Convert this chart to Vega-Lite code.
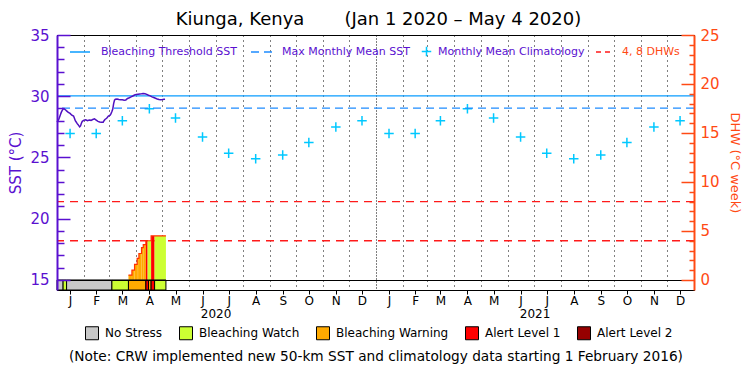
{
  "$schema": "https://vega.github.io/schema/vega-lite/v6.json",
  "autosize": {"type": "none"},
  "padding": {"left": 57, "top": 35, "right": 56, "bottom": 85},
  "width": 637,
  "height": 255,
  "background": "white",
  "title": {"text": "Kiunga, Kenya\u00a0\u00a0\u00a0\u00a0\u00a0\u00a0 (Jan 1 2020 \u2013 May 4 2020)", "fontSize": 18, "font": "DejaVu Sans", "fontWeight": "normal", "color": "black", "offset": -1, "anchor": "middle", "dx": 3},
  "datasets": {
    "sst": [
      {"date": "2020-01-01", "sst": 27.9}, {"date": "2020-01-02", "sst": 28.0}, {"date": "2020-01-03", "sst": 28.1},
      {"date": "2020-01-04", "sst": 28.3}, {"date": "2020-01-05", "sst": 28.5}, {"date": "2020-01-06", "sst": 28.7},
      {"date": "2020-01-07", "sst": 28.85}, {"date": "2020-01-08", "sst": 28.95}, {"date": "2020-01-09", "sst": 28.97},
      {"date": "2020-01-10", "sst": 28.93}, {"date": "2020-01-11", "sst": 28.88}, {"date": "2020-01-12", "sst": 28.8},
      {"date": "2020-01-14", "sst": 28.68}, {"date": "2020-01-16", "sst": 28.6}, {"date": "2020-01-18", "sst": 28.45},
      {"date": "2020-01-20", "sst": 28.38}, {"date": "2020-01-21", "sst": 28.2}, {"date": "2020-01-22", "sst": 28.0},
      {"date": "2020-01-23", "sst": 27.9}, {"date": "2020-01-24", "sst": 27.78}, {"date": "2020-01-25", "sst": 27.7},
      {"date": "2020-01-26", "sst": 27.6}, {"date": "2020-01-27", "sst": 27.5}, {"date": "2020-01-28", "sst": 27.58},
      {"date": "2020-01-29", "sst": 27.8}, {"date": "2020-01-30", "sst": 27.95}, {"date": "2020-02-01", "sst": 28.05},
      {"date": "2020-02-03", "sst": 28.08}, {"date": "2020-02-05", "sst": 28.0}, {"date": "2020-02-07", "sst": 28.05},
      {"date": "2020-02-09", "sst": 28.03}, {"date": "2020-02-11", "sst": 28.1}, {"date": "2020-02-13", "sst": 28.15},
      {"date": "2020-02-15", "sst": 28.05}, {"date": "2020-02-17", "sst": 27.95}, {"date": "2020-02-19", "sst": 27.9},
      {"date": "2020-02-21", "sst": 27.87}, {"date": "2020-02-23", "sst": 27.88}, {"date": "2020-02-24", "sst": 28.0},
      {"date": "2020-02-25", "sst": 28.1}, {"date": "2020-02-27", "sst": 28.2}, {"date": "2020-02-29", "sst": 28.38},
      {"date": "2020-03-02", "sst": 28.45}, {"date": "2020-03-03", "sst": 28.58}, {"date": "2020-03-04", "sst": 28.75},
      {"date": "2020-03-05", "sst": 28.95}, {"date": "2020-03-06", "sst": 29.4}, {"date": "2020-03-07", "sst": 29.68},
      {"date": "2020-03-08", "sst": 29.75}, {"date": "2020-03-10", "sst": 29.78}, {"date": "2020-03-12", "sst": 29.74},
      {"date": "2020-03-14", "sst": 29.72}, {"date": "2020-03-16", "sst": 29.72}, {"date": "2020-03-18", "sst": 29.68},
      {"date": "2020-03-20", "sst": 29.7}, {"date": "2020-03-22", "sst": 29.82}, {"date": "2020-03-24", "sst": 29.88},
      {"date": "2020-03-26", "sst": 29.95}, {"date": "2020-03-28", "sst": 30.02}, {"date": "2020-03-30", "sst": 30.1},
      {"date": "2020-04-01", "sst": 30.15}, {"date": "2020-04-03", "sst": 30.17}, {"date": "2020-04-05", "sst": 30.19},
      {"date": "2020-04-07", "sst": 30.2}, {"date": "2020-04-09", "sst": 30.22}, {"date": "2020-04-11", "sst": 30.2},
      {"date": "2020-04-13", "sst": 30.15}, {"date": "2020-04-15", "sst": 30.08}, {"date": "2020-04-17", "sst": 30.03},
      {"date": "2020-04-19", "sst": 29.95}, {"date": "2020-04-21", "sst": 29.9}, {"date": "2020-04-23", "sst": 29.84},
      {"date": "2020-04-25", "sst": 29.78}, {"date": "2020-04-27", "sst": 29.73}, {"date": "2020-04-29", "sst": 29.72},
      {"date": "2020-05-01", "sst": 29.73}, {"date": "2020-05-03", "sst": 29.75}, {"date": "2020-05-04", "sst": 29.75}
    ],
    "clim": [
      {"date": "2020-01-16", "sst": 26.95}, {"date": "2020-02-15", "sst": 26.95}, {"date": "2020-03-16", "sst": 28.0},
      {"date": "2020-04-16", "sst": 28.97}, {"date": "2020-05-16", "sst": 28.23}, {"date": "2020-06-16", "sst": 26.68},
      {"date": "2020-07-16", "sst": 25.34}, {"date": "2020-08-16", "sst": 24.9}, {"date": "2020-09-16", "sst": 25.2},
      {"date": "2020-10-16", "sst": 26.23}, {"date": "2020-11-16", "sst": 27.49}, {"date": "2020-12-16", "sst": 28.0},
      {"date": "2021-01-16", "sst": 26.95}, {"date": "2021-02-15", "sst": 26.95}, {"date": "2021-03-16", "sst": 28.0},
      {"date": "2021-04-16", "sst": 28.97}, {"date": "2021-05-16", "sst": 28.23}, {"date": "2021-06-16", "sst": 26.68},
      {"date": "2021-07-16", "sst": 25.34}, {"date": "2021-08-16", "sst": 24.9}, {"date": "2021-09-16", "sst": 25.2},
      {"date": "2021-10-16", "sst": 26.23}, {"date": "2021-11-16", "sst": 27.49}, {"date": "2021-12-16", "sst": 28.0}
    ],
    "threshold": [{"series": "Bleaching Threshold SST", "sst": 30.03}],
    "mmm": [{"series": "Max Monthly Mean SST", "sst": 29.03}],
    "dhwrefs": [
      {"series": "4, 8 DHWs", "dhw": 4},
      {"series": "4, 8 DHWs", "dhw": 8}
    ],
    "strip": [
      {"start": "2020-01-01", "end": "2020-01-08", "level": "No Stress"},
      {"start": "2020-01-08", "end": "2020-01-12", "level": "Bleaching Watch"},
      {"start": "2020-01-12", "end": "2020-03-04", "level": "No Stress"},
      {"start": "2020-03-04", "end": "2020-03-23", "level": "Bleaching Watch"},
      {"start": "2020-03-23", "end": "2020-04-12", "level": "Bleaching Warning"},
      {"start": "2020-04-12", "end": "2020-04-15", "level": "Alert Level 1"},
      {"start": "2020-04-15", "end": "2020-04-18", "level": "Bleaching Warning"},
      {"start": "2020-04-18", "end": "2020-04-22", "level": "Alert Level 1"},
      {"start": "2020-04-22", "end": "2020-05-05", "level": "Bleaching Watch"}
    ],
    "dhw": [
      {"start": "2020-03-23", "end": "2020-03-27", "dhw": 0.5, "level": "Bleaching Warning"},
      {"start": "2020-03-27", "end": "2020-03-30", "dhw": 1.0, "level": "Bleaching Warning"},
      {"start": "2020-03-30", "end": "2020-04-02", "dhw": 1.6, "level": "Bleaching Warning"},
      {"start": "2020-04-02", "end": "2020-04-04", "dhw": 2.2, "level": "Bleaching Warning"},
      {"start": "2020-04-04", "end": "2020-04-07", "dhw": 2.7, "level": "Bleaching Warning"},
      {"start": "2020-04-07", "end": "2020-04-09", "dhw": 3.3, "level": "Bleaching Warning"},
      {"start": "2020-04-09", "end": "2020-04-12", "dhw": 3.6, "level": "Bleaching Warning"},
      {"start": "2020-04-12", "end": "2020-04-14", "dhw": 4.0, "level": "Alert Level 1"},
      {"start": "2020-04-14", "end": "2020-04-18", "dhw": 4.0, "level": "Bleaching Watch"},
      {"start": "2020-04-18", "end": "2020-04-22", "dhw": 4.5, "level": "Alert Level 1"},
      {"start": "2020-04-22", "end": "2020-05-05", "dhw": 4.5, "level": "Bleaching Watch"}
    ]
  },
  "resolve": {"scale": {"y": "independent"}, "axis": {"x": "independent", "y": "independent"}},
  "layer": [
    {
      "data": {"name": "clim"},
      "mark": {"type": "point", "filled": false, "size": 90, "strokeWidth": 1.5, "opacity": 1, "color": "#00c8ff"},
      "encoding": {
        "x": {"field": "date", "type": "temporal",
          "scale": {"domain": [{"year": 2020, "month": 1, "date": 1, "utc": true}, {"year": 2022, "month": 1, "date": 1, "utc": true}]},
          "axis": {"orient": "bottom", "tickCount": {"interval": "month", "step": 1}, "grid": true, "gridColor": "black",
            "gridDash": {"condition": {"test": "month(datum.value) === 0", "value": [1, 2]}, "value": [1, 4]},
            "gridWidth": 1, "gridOpacity": 1, "labels": false, "ticks": false, "domain": true, "domainColor": "black", "domainWidth": 1, "title": null}},
        "y": {"field": "sst", "type": "quantitative", "scale": {"domain": [14.18, 35], "nice": false, "zero": false},
          "axis": {"orient": "left", "values": [16, 17, 18, 19, 21, 22, 23, 24, 26, 27, 28, 29, 31, 32, 33, 34], "tickSize": -7, "tickColor": "#5a10d0", "tickWidth": 1.5, "labels": false, "domain": false, "grid": false, "title": null, "zindex": 1}},
        "shape": {"datum": "Monthly Mean Climatology", "type": "nominal",
          "scale": {"domain": ["Monthly Mean Climatology"], "range": ["M-1,0L1,0M0,-1L0,1"]},
          "legend": {"orient": "none", "legendX": 364, "legendY": 11, "direction": "horizontal", "title": null,
            "symbolSize": 90, "symbolStrokeWidth": 1.5, "symbolStrokeColor": "#00c8ff", "symbolFillColor": "transparent", "symbolOpacity": 1,
            "labelFont": "DejaVu Sans", "labelFontSize": 11, "labelColor": "#5a10d0", "labelOffset": 6}}
      }
    },
    {
      "data": {"name": "threshold"},
      "mark": {"type": "rule", "strokeWidth": 1.3},
      "encoding": {
        "y": {"field": "sst", "type": "quantitative", "scale": {"domain": [14.18, 35], "nice": false, "zero": false}, "axis": null},
        "color": {"field": "series", "type": "nominal",
          "scale": {"domain": ["Bleaching Threshold SST"], "range": ["#0a9cff"]},
          "legend": {"orient": "none", "legendX": 12, "legendY": 6, "direction": "horizontal", "title": null,
            "symbolType": "stroke", "symbolSize": 400, "symbolStrokeWidth": 1.5, "symbolOpacity": 1,
            "labelFont": "DejaVu Sans", "labelFontSize": 11, "labelColor": "#5a10d0", "labelOffset": 10}}
      }
    },
    {
      "data": {"name": "mmm"},
      "mark": {"type": "rule", "strokeWidth": 1.3, "color": "#1e8cff"},
      "encoding": {
        "y": {"field": "sst", "type": "quantitative", "scale": {"domain": [14.18, 35], "nice": false, "zero": false}, "axis": null},
        "strokeDash": {"field": "series", "type": "nominal",
          "scale": {"domain": ["Max Monthly Mean SST"], "range": [[8, 5]]},
          "legend": {"orient": "none", "legendX": 193, "legendY": 5, "direction": "horizontal", "title": null,
            "symbolType": "stroke", "symbolSize": 484, "symbolStrokeWidth": 1.5, "symbolStrokeColor": "#1e8cff", "symbolOpacity": 1, "symbolDash": [6, 4],
            "labelFont": "DejaVu Sans", "labelFontSize": 11, "labelColor": "#5a10d0", "labelOffset": 8}}
      }
    },
    {
      "data": {"name": "dhwrefs"},
      "mark": {"type": "rule", "strokeWidth": 1.3, "strokeDash": [8, 6]},
      "encoding": {
        "y": {"field": "dhw", "type": "quantitative", "scale": {"domain": [-1.025, 25], "nice": false, "zero": false},
          "axis": {"orient": "right", "values": [0, 5, 10, 15, 20, 25], "tickSize": -13, "tickColor": "#ff4a14", "tickWidth": 1.5,
            "domainColor": "#ff4a14", "domainWidth": 2, "labelColor": "#ff4a14", "labelFontSize": 15, "labelPadding": 19,
            "title": "DHW (\u00b0C week)", "titleColor": "#ff4a14", "titleFontSize": 13, "titleFontWeight": "normal", "titlePadding": 8, "grid": false, "zindex": 1}},
        "stroke": {"field": "series", "type": "nominal",
          "scale": {"domain": ["4, 8 DHWs"], "range": ["#ff1a1a"]},
          "legend": {"orient": "none", "legendX": 538, "legendY": 7, "direction": "horizontal", "title": null,
            "symbolType": "stroke", "symbolSize": 324, "symbolStrokeWidth": 1.5, "symbolOpacity": 1, "symbolDash": [5, 4],
            "labelFont": "DejaVu Sans", "labelFontSize": 11, "labelColor": "#ff4a14", "labelOffset": 7}}
      }
    },
    {
      "data": {"name": "sst"},
      "mark": {"type": "line", "color": "#5010c0", "strokeWidth": 1.5},
      "encoding": {
        "x": {"field": "date", "type": "temporal",
          "scale": {"domain": [{"year": 2020, "month": 1, "date": 1, "utc": true}, {"year": 2022, "month": 1, "date": 1, "utc": true}]},
          "axis": {"orient": "bottom", "values": [
              {"year": 2020, "month": 1, "date": 16, "utc": true}, {"year": 2020, "month": 2, "date": 15, "utc": true},
              {"year": 2020, "month": 3, "date": 16, "utc": true}, {"year": 2020, "month": 4, "date": 16, "utc": true},
              {"year": 2020, "month": 5, "date": 16, "utc": true}, {"year": 2020, "month": 6, "date": 16, "utc": true},
              {"year": 2020, "month": 7, "date": 16, "utc": true}, {"year": 2020, "month": 8, "date": 16, "utc": true},
              {"year": 2020, "month": 9, "date": 16, "utc": true}, {"year": 2020, "month": 10, "date": 16, "utc": true},
              {"year": 2020, "month": 11, "date": 16, "utc": true}, {"year": 2020, "month": 12, "date": 16, "utc": true},
              {"year": 2021, "month": 1, "date": 16, "utc": true}, {"year": 2021, "month": 2, "date": 15, "utc": true},
              {"year": 2021, "month": 3, "date": 16, "utc": true}, {"year": 2021, "month": 4, "date": 16, "utc": true},
              {"year": 2021, "month": 5, "date": 16, "utc": true}, {"year": 2021, "month": 6, "date": 16, "utc": true},
              {"year": 2021, "month": 7, "date": 16, "utc": true}, {"year": 2021, "month": 8, "date": 16, "utc": true},
              {"year": 2021, "month": 9, "date": 16, "utc": true}, {"year": 2021, "month": 10, "date": 16, "utc": true},
              {"year": 2021, "month": 11, "date": 16, "utc": true}, {"year": 2021, "month": 12, "date": 16, "utc": true}],
            "labelExpr": "substring(utcFormat(datum.value, '%b'), 0, 1)", "tickSize": 4, "tickColor": "black", "labelColor": "black",
            "labelFontSize": 12, "labelPadding": 1, "domain": false, "grid": false, "title": null, "labelFlush": false, "labelOverlap": false}},
        "y": {"field": "sst", "type": "quantitative", "scale": {"domain": [14.18, 35], "nice": false, "zero": false},
          "axis": {"orient": "left", "values": [15, 20, 25, 30, 35], "tickSize": -13, "tickColor": "#5a10d0", "tickWidth": 1.5,
            "domainColor": "#5a10d0", "domainWidth": 2, "labelColor": "#5a10d0", "labelFontSize": 15, "labelPadding": 21,
            "title": "SST (\u00b0C)", "titleColor": "#5a10d0", "titleFontSize": 15, "titleFontWeight": "normal", "titlePadding": 6, "grid": false, "zindex": 1}}
      }
    },
    {
      "data": {"name": "dhw"},
      "mark": {"type": "bar"},
      "encoding": {
        "x": {"field": "start", "type": "temporal",
          "scale": {"domain": [{"year": 2020, "month": 1, "date": 1, "utc": true}, {"year": 2022, "month": 1, "date": 1, "utc": true}]},
          "axis": {"orient": "bottom", "values": [{"year": 2020, "month": 7, "date": 1, "utc": true}, {"year": 2021, "month": 7, "date": 2, "utc": true}],
            "labelExpr": "utcFormat(datum.value, '%Y')", "ticks": false, "domain": false, "grid": false, "labelPadding": 18,
            "labelFontSize": 12, "labelColor": "black", "labelFlush": false, "labelOverlap": false,
            "title": "(Note: CRW implemented new 50-km SST and climatology data starting 1 February 2016)",
            "titleFontSize": 13.7, "titleFontWeight": "normal", "titleColor": "black", "titlePadding": 30, "titleLimit": 800}},
        "x2": {"field": "end"},
        "y": {"field": "dhw", "type": "quantitative", "scale": {"domain": [-1.025, 25], "nice": false, "zero": false},
          "axis": {"orient": "right", "values": [1, 2, 3, 4, 6, 7, 8, 9, 11, 12, 13, 14, 16, 17, 18, 19, 21, 22, 23, 24], "tickSize": -5, "tickColor": "#ff4a14", "tickWidth": 1.5, "labels": false, "domain": false, "grid": false, "title": null, "zindex": 1}},
        "y2": {"datum": 0},
        "fill": {"field": "level", "type": "nominal"}
      }
    },
    {
      "data": {"name": "dhw"},
      "transform": [{"fold": ["start", "end"], "as": ["key", "date"]}],
      "mark": {"type": "line", "color": "#ff3000", "strokeWidth": 1.2},
      "encoding": {
        "x": {"field": "date", "type": "temporal",
          "scale": {"domain": [{"year": 2020, "month": 1, "date": 1, "utc": true}, {"year": 2022, "month": 1, "date": 1, "utc": true}]},
          "axis": {"orient": "top", "labels": false, "ticks": false, "grid": false, "domain": true, "domainColor": "black", "domainWidth": 1, "title": null}},
        "y": {"field": "dhw", "type": "quantitative", "scale": {"domain": [-1.025, 25], "nice": false, "zero": false}, "axis": null},
        "order": [{"field": "date", "type": "temporal"}, {"field": "key", "type": "nominal"}]
      }
    },
    {
      "data": {"name": "strip"},
      "mark": {"type": "bar", "stroke": "black", "strokeWidth": 1},
      "encoding": {
        "x": {"field": "start", "type": "temporal",
          "scale": {"domain": [{"year": 2020, "month": 1, "date": 1, "utc": true}, {"year": 2022, "month": 1, "date": 1, "utc": true}]},
          "axis": {"orient": "bottom", "offset": -10, "labels": false, "ticks": false, "grid": false, "domain": true, "domainColor": "black", "domainWidth": 1, "title": null, "zindex": 1}},
        "x2": {"field": "end"},
        "y": {"datum": 0, "type": "quantitative", "scale": {"domain": [-1.025, 25], "nice": false, "zero": false}, "axis": null},
        "y2": {"datum": -1.025},
        "fill": {"field": "level", "type": "nominal",
          "scale": {"domain": ["No Stress", "Bleaching Watch", "Bleaching Warning", "Alert Level 1", "Alert Level 2"], "range": ["#c8c8c8", "#ccff33", "#ffaa00", "#ff0000", "#960000"]},
          "legend": {"orient": "none", "legendX": 28, "legendY": 291, "direction": "horizontal", "title": null,
            "symbolType": "square", "symbolSize": 169, "symbolStrokeColor": "black", "symbolStrokeWidth": 1, "symbolOpacity": 1,
            "labelFont": "DejaVu Sans", "labelFontSize": 12, "labelColor": "black", "labelOffset": 6, "columnPadding": 14}}
      }
    }
  ],
  "config": {
    "font": "DejaVu Sans",
    "view": {"stroke": "black", "strokeWidth": 1},
    "axis": {"labelFont": "DejaVu Sans", "titleFont": "DejaVu Sans"}
  }
}
